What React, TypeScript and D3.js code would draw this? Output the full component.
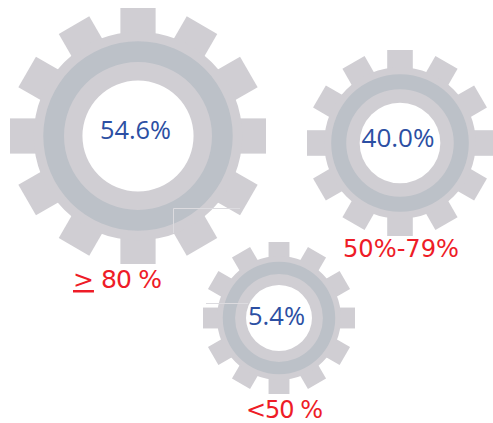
import React from "react";
import * as d3 from "d3";

const shares = ["54.6%", "40.0%", "5.4%"];
const bands = ["80 %", "50%-79%", "<50 %"];
const gearCx = [138, 400, 279];
const gearCy = [136, 143, 318];
const gearR = [128, 93, 76];
const toothCount = 12;

const GEAR = "#d0ced3";
const RING = "#bcc1c8";
const BLUE = "#2c4fa3";
const RED = "#ee1c27";
const SANS = "'Open Sans','Noto Sans',sans-serif";
const WIDE = "'DejaVu Sans',sans-serif";

const teeth = d3.range(toothCount);
const angle = d3.scaleLinear().domain([0, toothCount]).range([0, 360]);
const frac = d3.scaleLinear().domain([0, 1]).range([0, 1]);

function Gear({ i }: { i: number }) {
  const R = gearR[i];
  const body = frac(0.815) * R;
  const tw = frac(0.275) * R;
  const ring = d3.arc()({ innerRadius: 0.578 * R, outerRadius: 0.74 * R, startAngle: 0, endAngle: 2 * Math.PI }) as string;
  const disc = d3.arc()({ innerRadius: 0.434 * R, outerRadius: body, startAngle: 0, endAngle: 2 * Math.PI }) as string;
  return (
    <g transform={`translate(${gearCx[i]},${gearCy[i]})`}>
      {teeth.map((t) => (
        <rect key={t} x={-tw / 2} y={-R} width={tw} height={R - body + 4} fill={GEAR} transform={`rotate(${angle(t)})`} />
      ))}
      <path d={disc} fill={GEAR} />
      <path d={ring} fill={RING} />
    </g>
  );
}

export default function App() {
  return (
    <svg width={493} height={423} style={{ position: "absolute", left: 0, top: 0, background: "#fff" }}>
      {gearR.map((_, i) => <Gear key={i} i={i} />)}
      <path d="M173.500 233V208.500H240" fill="none" stroke="#dcdbdf" strokeWidth={1} />
      <path d="M206 303.500H248" fill="none" stroke="#dcdbdf" strokeWidth={1} />
      <text x={135.500} y={139} textAnchor="middle" fontFamily={SANS} fontSize={25} fill={BLUE} textLength={71} lengthAdjust="spacingAndGlyphs">{shares[0]}</text>
      <text x={398} y={147} textAnchor="middle" fontFamily={SANS} fontSize={25} fill={BLUE} textLength={73} lengthAdjust="spacingAndGlyphs">{shares[1]}</text>
      <text x={276.500} y={325} textAnchor="middle" fontFamily={SANS} fontSize={25} fill={BLUE} textLength={57} lengthAdjust="spacingAndGlyphs">{shares[2]}</text>
      <text x={73} y={288} fontFamily={WIDE} fontSize={25} fill={RED} textDecoration="underline">&gt;</text>
      <text x={101} y={288} fontFamily={WIDE} fontSize={25} fill={RED} textLength={61} lengthAdjust="spacing">{bands[0]}</text>
      <text x={343} y={257} fontFamily={WIDE} fontSize={24} fill={RED} textLength={116} lengthAdjust="spacingAndGlyphs">{bands[1]}</text>
      <text x={246} y={418} fontFamily={WIDE} fontSize={24} fill={RED} textLength={77} lengthAdjust="spacing">{bands[2]}</text>
    </svg>
  );
}
